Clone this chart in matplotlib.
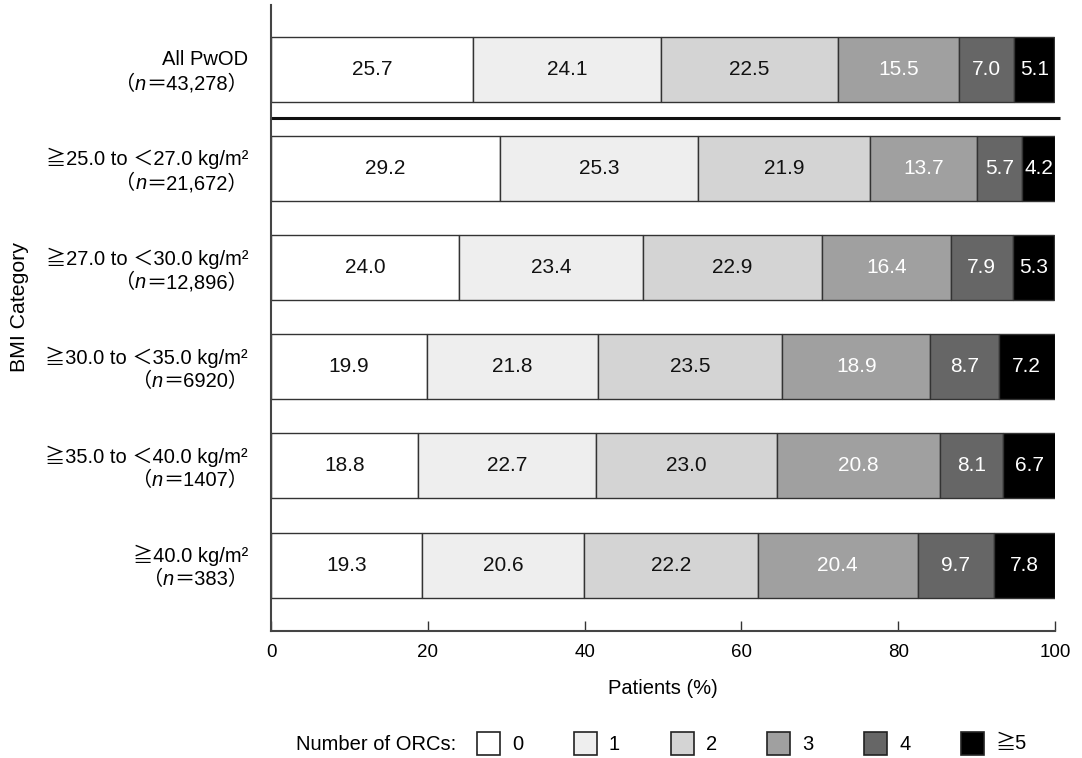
import matplotlib
matplotlib.use("Agg")
import matplotlib.pyplot as plt
from matplotlib.patches import Rectangle

plt.rcParams["font.family"] = ["Liberation Sans", "Noto Sans CJK JP", "DejaVu Sans"]

# ---- data ----
groups = ["All PwOD", "≧25.0 to ＜27.0 kg/m²", "≧27.0 to ＜30.0 kg/m²",
          "≧30.0 to ＜35.0 kg/m²", "≧35.0 to ＜40.0 kg/m²", "≧40.0 kg/m²"]
group_n = ["43,278", "21,672", "12,896", "6920", "1407", "383"]
orc_labels = ["0", "1", "2", "3", "4", "≧5"]
orc_0 = [25.7, 29.2, 24.0, 19.9, 18.8, 19.3]
orc_1 = [24.1, 25.3, 23.4, 21.8, 22.7, 20.6]
orc_2 = [22.5, 21.9, 22.9, 23.5, 23.0, 22.2]
orc_3 = [15.5, 13.7, 16.4, 18.9, 20.8, 20.4]
orc_4 = [7.0, 5.7, 7.9, 8.7, 8.1, 9.7]
orc_5 = [5.1, 4.2, 5.3, 7.2, 6.7, 7.8]
series = [orc_0, orc_1, orc_2, orc_3, orc_4, orc_5]

fills = ["#ffffff", "#eeeeee", "#d4d4d4", "#a0a0a0", "#666666", "#000000"]
text_cols = ["#111111", "#111111", "#111111", "white", "white", "white"]
EDGE = "#333333"

fig = plt.figure(figsize=(10.82, 7.58), dpi=100)
ax = fig.add_axes([0.2505, 0.1675, 0.7245, 0.826])

ypos = list(range(len(groups)))
left = [0.0] * len(groups)
for vals, fc, tc in zip(series, fills, text_cols):
    bars = ax.barh(ypos, vals, left=left, height=0.656, color=fc,
                   edgecolor=EDGE, linewidth=1.0)
    for b, v in zip(bars, vals):
        ax.text(b.get_x() + b.get_width() / 2, b.get_y() + b.get_height() / 2,
                f"{v:.1f}", ha="center", va="center", fontsize=15, color=tc)
    left = [l + v for l, v in zip(left, vals)]

# separator between the overall row and the BMI rows
ax.plot([0, 100.6], [0.486, 0.486], color="#111111", lw=2.2, clip_on=False,
        solid_capstyle="butt")

ax.set_xlim(0, 100)
ax.set_ylim(5.666, -0.651)
ax.set_xticks([0, 20, 40, 60, 80, 100])
ax.tick_params(axis="x", direction="in", length=7, width=1, color="#333333",
               labelsize=13.5, pad=9)
ax.set_yticks([])
for s in ("top", "right"):
    ax.spines[s].set_visible(False)
for s in ("left", "bottom"):
    ax.spines[s].set_linewidth(1.5)
    ax.spines[s].set_color("#444444")

ax.set_xlabel("Patients (%)", fontsize=14.5, labelpad=13)
fig.text(20 / 1082, 1 - 307 / 758, "BMI Category", rotation=90, fontsize=15.3,
         ha="center", va="center")

# ---- row labels: name line plus "(n=...)" line with italic n ----
renderer = fig.canvas.get_renderer()
px2pt = 72 / fig.dpi
xoff = -16.5
for yi, (name, n) in enumerate(zip(groups, group_n)):
    ax.annotate(name, xy=(0, yi), xycoords=("axes fraction", "data"),
                xytext=(xoff, 7), textcoords="offset points",
                ha="right", va="center", fontsize=14.5)
    dx = xoff
    pieces = [("＝" + n + "）", "normal"), ("n", "italic"), ("（", "normal")]
    for txt, style in pieces:
        t = ax.annotate(txt, xy=(0, yi), xycoords=("axes fraction", "data"),
                        xytext=(dx, -10.5), textcoords="offset points",
                        ha="right", va="center", fontsize=14.5, style=style)
        dx -= t.get_window_extent(renderer).width * px2pt

# ---- legend ----
W, H = 1082, 758
fig.text(456 / W, 1 - 744 / H, "Number of ORCs:", fontsize=14.5,
         ha="right", va="center")
box_x0, step, box = 477, 96.8, 23
for i, (lab, fc) in enumerate(zip(orc_labels, fills)):
    bx = box_x0 + i * step
    fig.add_artist(Rectangle((bx / W, 1 - 755 / H), box / W, box / H,
                             transform=fig.transFigure, facecolor=fc,
                             edgecolor="#222222", linewidth=1.2))
    fig.text((bx + box + 12) / W, 1 - 744 / H, lab, fontsize=14.5,
             ha="left", va="center")

fig.savefig("out.png", dpi=100, facecolor="white")
